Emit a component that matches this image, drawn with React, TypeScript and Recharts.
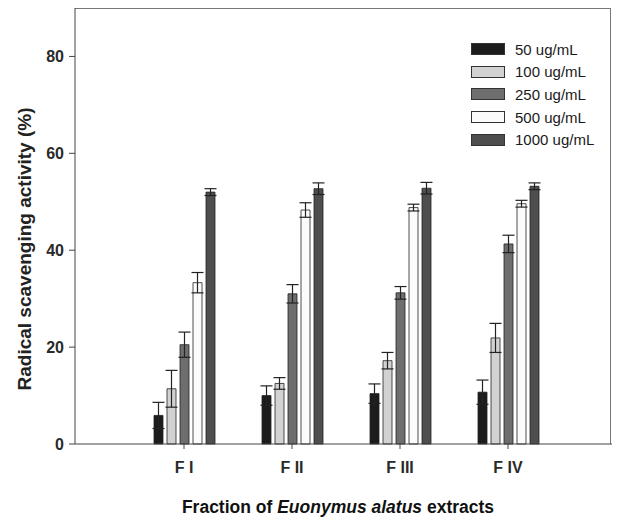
import React from 'react';
import { BarChart, Bar, XAxis, YAxis, ErrorBar, Label } from 'recharts';

const categories = ['F I', 'F II', 'F III', 'F IV'];
const seriesNames = ['50 ug/mL', '100 ug/mL', '250 ug/mL', '500 ug/mL', '1000 ug/mL'];
const val50 = [5.9, 10.0, 10.4, 10.7];
const err50 = [2.7, 2.0, 2.0, 2.5];
const val100 = [11.4, 12.5, 17.2, 21.9];
const err100 = [3.8, 1.2, 1.7, 3.0];
const val250 = [20.5, 31.0, 31.2, 41.3];
const err250 = [2.6, 1.9, 1.3, 1.8];
const val500 = [33.3, 48.3, 48.8, 49.6];
const err500 = [2.1, 1.5, 0.7, 0.7];
const val1000 = [52.0, 52.7, 52.8, 53.2];
const err1000 = [0.7, 1.2, 1.2, 0.7];
const yTicks = [0, 20, 40, 60, 80];

const fills = ['#1c1c1c', '#d2d2d2', '#6e6e6e', '#fbfbfb', '#4e4e4e'];
const values = [val50, val100, val250, val500, val1000];
const errors = [err50, err100, err250, err500, err1000];

const data = categories.map((c, i) => {
  const row: any = { name: c };
  values.forEach((v, s) => {
    row['v' + s] = v[i];
    row['e' + s] = errors[s][i];
  });
  return row;
});

const font = 'Arial, "Liberation Sans", sans-serif';

export default function App() {
  return (
    <div style={{ position: 'absolute', left: 0, top: 0, width: 621, height: 521, background: '#fff' }}>
      <div
        style={{
          position: 'absolute',
          left: 75,
          top: 8,
          width: 536,
          height: 436,
          borderTop: '1px solid #777',
          borderRight: '1px solid #777',
          boxSizing: 'border-box',
        }}
      />
      <div style={{ position: 'absolute', left: 0, top: 0 }}>
        <BarChart
          width={621}
          height={521}
          data={data}
          margin={{ top: 8, right: 9, left: 0, bottom: 0 }}
          barSize={9}
          barGap={4}
          style={{ fontFamily: font }}
        >
          <XAxis
            dataKey="name"
            height={77}
            padding={{ left: 55, right: 50 }}
            stroke="#444"
            tickSize={5}
            tickMargin={13}
            tick={{ fontSize: 16, fontWeight: 'bold', fill: '#2a2a2a', fontFamily: font }}
          >
            <Label
              content={() => (
                <text x={338} y={513} textAnchor="middle" fontSize={17.5} fontWeight="bold" fill="#111" fontFamily={font}>
                  Fraction of <tspan fontStyle="italic">Euonymus alatus</tspan> extracts
                </text>
              )}
            />
          </XAxis>
          <YAxis
            width={75}
            domain={[0, 90]}
            ticks={yTicks}
            stroke="#444"
            tickSize={6}
            tickMargin={5}
            tick={{ fontSize: 16, fontWeight: 'bold', fill: '#2a2a2a', fontFamily: font }}
          >
            <Label
              content={() => (
                <text
                  x={31}
                  y={249}
                  transform="rotate(-90, 31, 249)"
                  textAnchor="middle"
                  fontSize={19}
                  fontWeight="bold"
                  fill="#222"
                  fontFamily={font}
                >
                  Radical scavenging activity (%)
                </text>
              )}
            />
          </YAxis>
          {values.map((_, s) => (
            <Bar
              key={s}
              dataKey={'v' + s}
              name={seriesNames[s]}
              fill={fills[s]}
              stroke="#222"
              strokeWidth={0.8}
              isAnimationActive={false}
            >
              <ErrorBar dataKey={'e' + s} width={6} stroke="#222" strokeWidth={1.2} direction="y" />
            </Bar>
          ))}
        </BarChart>
      </div>
      <div style={{ position: 'absolute', left: 471, top: 38, fontFamily: font }}>
        {seriesNames.map((n, s) => (
          <div key={n} style={{ display: 'flex', alignItems: 'center', height: 22.6 }}>
            <div style={{ width: 32, height: 10, background: fills[s], border: '1px solid #333' }} />
            <span style={{ marginLeft: 10, fontSize: 15, color: '#1a1a1a' }}>{n}</span>
          </div>
        ))}
      </div>
    </div>
  );
}
